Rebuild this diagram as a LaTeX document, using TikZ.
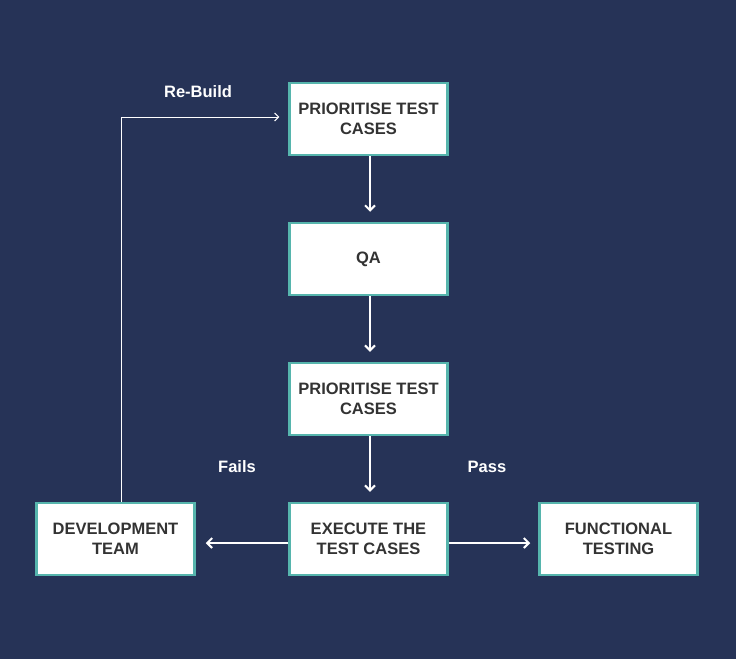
\documentclass[tikz,border=0pt]{standalone}
\usepackage{fontspec}
\setmainfont{Liberation Sans}
\usetikzlibrary{arrows.meta}
\definecolor{bg}{HTML}{263357}
\definecolor{teal}{HTML}{56B5AD}
\definecolor{txt}{HTML}{333333}
\begin{document}
\begin{tikzpicture}[x=1pt,y=-1pt,
  box/.style={draw=teal,line width=2.5pt,fill=white,minimum width=158pt,minimum height=72pt,
    inner sep=0pt,align=center,text=txt,font=\fontsize{16.5}{20}\selectfont\bfseries},
  conn/.style={draw=white,line width=2pt,-{Straight Barb[length=5pt,width=10pt,line width=2pt]}},
  thin/.style={draw=white,line width=1pt,-{Straight Barb[length=4pt,width=8pt,line width=1pt]}},
  lbl/.style={text=white,font=\fontsize{16.5}{20}\selectfont\bfseries}]
\fill[bg] (0,0) rectangle (736,659);
\useasboundingbox (0,0) rectangle (736,659);
\node[box] (p1) at (368.5,119) {PRIORITISE TEST\\CASES};
\node[box] (qa) at (368.5,259) {QA};
\node[box] (p2) at (368.5,399) {PRIORITISE TEST\\CASES};
\node[box] (ex) at (368.5,539) {EXECUTE THE\\TEST CASES};
\node[box] (dev) at (115.5,539) {DEVELOPMENT\\TEAM};
\node[box] (fun) at (618.5,539) {FUNCTIONAL\\TESTING};
\coordinate (rb) at (121,117);
\draw[conn] ([xshift=1.5pt]p1.south) -- ([xshift=1.5pt,yshift=10pt]qa.north);
\draw[conn] ([xshift=1.5pt]qa.south) -- ([xshift=1.5pt,yshift=10pt]p2.north);
\draw[conn] ([xshift=1.5pt]p2.south) -- ([xshift=1.5pt,yshift=10pt]ex.north);
\draw[conn] ([yshift=-4pt]ex.west) -- ([xshift=10pt,yshift=-4pt]dev.east);
\draw[conn] ([yshift=-4pt]ex.east) -- ([xshift=-8pt,yshift=-4pt]fun.west);
\draw[thin] (dev.north -| rb) -- (rb) -- ([xshift=-9pt]rb -| p1.west);
\node[lbl] (rbl) at (198,92) {Re-Build};
\node[lbl] (fl) at (237,467) {Fails};
\node[lbl] (pl) at (487,467) {Pass};
\end{tikzpicture}
\end{document}
